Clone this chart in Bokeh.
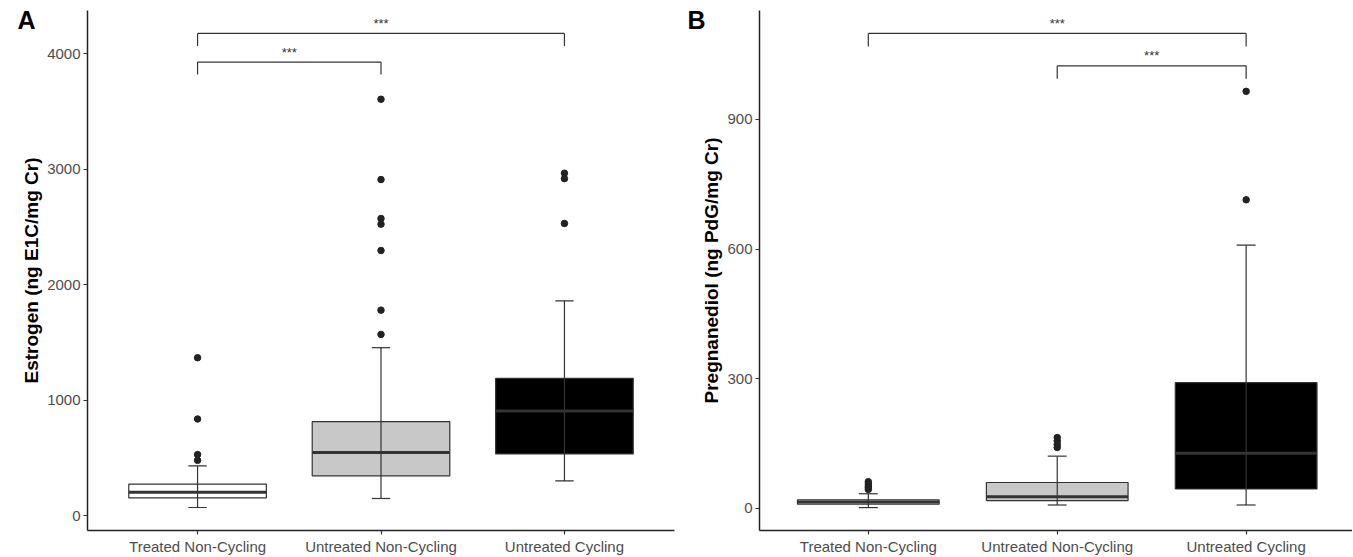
from bokeh.plotting import figure
from bokeh.models import Range1d, FixedTicker, ColumnDataSource, Label
from bokeh.layouts import row
from bokeh.embed import file_html
from bokeh.resources import INLINE
from bokeh.core.properties import value

# ---------------- data ----------------
groups = ["Treated Non-Cycling", "Untreated Non-Cycling", "Untreated Cycling"]
box_fills = ["#FFFFFF", "#C8C8C8", "#000000"]

# Panel A: Estrogen (ng E1C/mg Cr)
e_lower = [72, 150, 302]
e_q1 = [155, 346, 536]
e_median = [205, 547, 907]
e_q3 = [274, 815, 1190]
e_upper = [432, 1455, 1861]
e_out_group = ["Treated Non-Cycling"] * 4 + ["Untreated Non-Cycling"] * 7 + ["Untreated Cycling"] * 3
e_out_value = [480, 530, 838, 1368,
               1570, 1780, 2296, 2524, 2573, 2910, 3605,
               2530, 2918, 2965]
e_ticks = [0, 1000, 2000, 3000, 4000]
e_range = (-127, 4373)
e_pairs = [("Treated Non-Cycling", "Untreated Non-Cycling"),
           ("Treated Non-Cycling", "Untreated Cycling")]
e_bracket_y = [3927, 4175]
e_bracket_tip = [3820, 4065]
e_bracket_text_y = [4033, 4287]
e_signif = ["***", "***"]

# Panel B: Pregnanediol (ng PdG/mg Cr)
p_lower = [2, 8, 8]
p_q1 = [10, 18, 45]
p_median = [15, 27, 128]
p_q3 = [20, 60, 291]
p_upper = [34, 121, 609]
p_out_group = ["Treated Non-Cycling"] * 5 + ["Untreated Non-Cycling"] * 4 + ["Untreated Cycling"] * 2
p_out_value = [44, 48, 52, 57, 62,
               141, 148, 156, 164,
               714, 965]
p_ticks = [0, 300, 600, 900]
p_range = (-51, 1152)
p_pairs = [("Treated Non-Cycling", "Untreated Cycling"),
           ("Untreated Non-Cycling", "Untreated Cycling")]
p_bracket_y = [1099, 1024]
p_bracket_tip = [1069, 994]
p_bracket_text_y = [1128, 1054]
p_signif = ["***", "***"]

FONT = "Liberation Sans"
INK = "#333333"
H = 557
BORDER_TOP = 10
BORDER_BOTTOM = 26


def panel(letter, letter_xy, ylabel, width, left_border, right_border,
          x_rng, y_rng, ticks,
          lower, q1, med, q3, upper, out_g, out_v, pairs, b_y, b_tip, b_ty, signif):
    pos = {g: i + 1 for i, g in enumerate(groups)}
    xs = [pos[g] for g in groups]
    p = figure(width=width, height=H, output_backend="svg", toolbar_location=None,
               x_range=Range1d(*x_rng), y_range=Range1d(*y_rng),
               min_border_left=left_border, min_border_right=right_border,
               min_border_top=BORDER_TOP, min_border_bottom=BORDER_BOTTOM)
    p.outline_line_color = None
    p.grid.visible = False
    p.background_fill_color = "white"
    p.border_fill_color = "white"

    half = 0.375
    cap = 0.05
    src = ColumnDataSource(dict(
        x=xs, left=[x - half for x in xs], right=[x + half for x in xs],
        capl=[x - cap for x in xs], capr=[x + cap for x in xs],
        lower=lower, q1=q1, med=med, q3=q3, upper=upper, fill=box_fills))

    p.quad(left="left", right="right", bottom="q1", top="q3", source=src,
           fill_color="fill", line_color=INK, line_width=1.2)
    p.segment(x0="left", x1="right", y0="med", y1="med", source=src,
              line_color=INK, line_width=3)
    p.segment(x0="x", x1="x", y0="lower", y1="upper", source=src,
              line_color=INK, line_width=1.2)
    p.segment(x0="capl", x1="capr", y0="upper", y1="upper", source=src,
              line_color=INK, line_width=1.2)
    p.segment(x0="capl", x1="capr", y0="lower", y1="lower", source=src,
              line_color=INK, line_width=1.2)
    p.scatter(x=[pos[g] for g in out_g], y=out_v, size=6.5,
              fill_color="#222222", line_color="#222222")

    bx0 = [pos[a] for a, b in pairs]
    bx1 = [pos[b] for a, b in pairs]
    p.segment(x0=bx0, x1=bx1, y0=b_y, y1=b_y, line_color=INK, line_width=1.2)
    p.segment(x0=bx0, x1=bx0, y0=b_y, y1=b_tip, line_color=INK, line_width=1.2)
    p.segment(x0=bx1, x1=bx1, y0=b_y, y1=b_tip, line_color=INK, line_width=1.2)
    p.text(x=[(a + b) / 2 for a, b in zip(bx0, bx1)], y=b_ty, text=signif,
           text_align="center", text_baseline="middle", y_offset=3,
           text_font=value(FONT), text_font_size="13px", text_color=INK)

    p.xaxis.ticker = FixedTicker(ticks=xs)
    p.xaxis.major_label_overrides = {x: g for x, g in zip(xs, groups)}
    p.yaxis.ticker = FixedTicker(ticks=ticks)
    for ax in (p.xaxis, p.yaxis):
        ax.axis_line_color = "#222222"
        ax.axis_line_width = 1.5
        ax.major_tick_line_color = INK
        ax.major_tick_line_width = 1.2
        ax.major_tick_in = 0
        ax.major_tick_out = 4
        ax.minor_tick_line_color = None
        ax.major_label_text_font = FONT
        ax.major_label_text_font_size = "15px"
        ax.major_label_text_color = "#4d4d4d"
    p.xaxis.major_label_standoff = 3
    p.yaxis.major_label_standoff = 3
    p.yaxis.axis_label = ylabel
    p.yaxis.axis_label_text_font = FONT
    p.yaxis.axis_label_text_font_style = "bold"
    p.yaxis.axis_label_text_font_size = "19px"
    p.yaxis.axis_label_text_color = "black"
    p.yaxis.axis_label_standoff = 2

    # panel letter, placed in the outer left side panel so it is not clipped to the frame
    p.add_layout(Label(x=letter_xy[0], y=letter_xy[1],
                       x_units="screen", y_units="screen", text=letter,
                       text_font=FONT, text_font_style="bold",
                       text_font_size="25px", text_color="black",
                       text_baseline="alphabetic", text_align="left"), "left")
    return p


pa = panel("A", (17, 511), "Estrogen (ng E1C/mg Cr)", 680, 86, 6,
           (0.4, 3.6), e_range, e_ticks,
           e_lower, e_q1, e_median, e_q3, e_upper, e_out_group, e_out_value,
           e_pairs, e_bracket_y, e_bracket_tip, e_bracket_text_y, e_signif)
pb = panel("B", (7, 511), "Pregnanediol (ng PdG/mg Cr)", 672, 75, 0,
           (0.424, 3.563), p_range, p_ticks,
           p_lower, p_q1, p_median, p_q3, p_upper, p_out_group, p_out_value,
           p_pairs, p_bracket_y, p_bracket_tip, p_bracket_text_y, p_signif)

layout = row(pa, pb)
open("out.html", "w").write(file_html(layout, INLINE))
